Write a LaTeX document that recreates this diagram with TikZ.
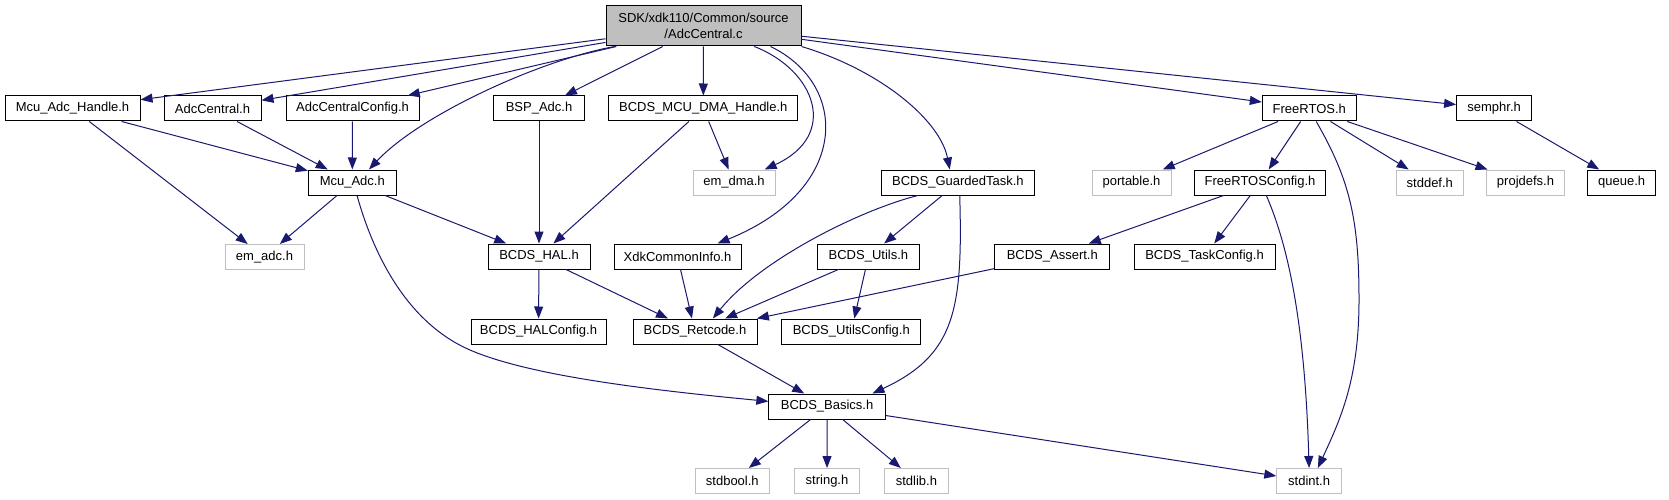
\documentclass[tikz,border=0pt]{standalone}
\usepackage{fontspec}
\setmainfont{Liberation Sans}
\usepackage{tikz}
\usetikzlibrary{arrows.meta}
\definecolor{navy}{HTML}{191970}
\definecolor{ghost}{HTML}{BFBFBF}
\tikzset{
  >={Triangle[length=12pt,width=9pt]},
  hdr/.style={draw=black, fill=white, line width=1pt, minimum height=25, inner sep=0pt,
    font=\fontsize{13}{16}\selectfont},
  sys/.style={hdr, draw=ghost},
  incl/.style={->, line width=1pt, color=navy}
}

\begin{document}
\begin{tikzpicture}[x=1pt,y=1pt]
  \path[use as bounding box,fill=white] (0,0) rectangle (1669,-500);

  % source file
  \node[hdr,fill=ghost,minimum width=195,minimum height=40,align=center] (root) at (703.5,-26)
    {SDK/xdk110/Common/source\\/AdcCentral.c};

  % first row
  \node[hdr,minimum width=135] (mcuhandle) at (72.5,-108.5) {Mcu\_Adc\_Handle.h};
  \node[hdr,minimum width=97] (adccentral) at (212.5,-108.5) {AdcCentral.h};
  \node[hdr,minimum width=133] (adcconfig) at (352.5,-108.5) {AdcCentralConfig.h};
  \node[hdr,minimum width=91] (bspadc) at (539,-108.5) {BSP\_Adc.h};
  \node[hdr,minimum width=189] (dmahandle) at (703.3,-108.5) {BCDS\_MCU\_DMA\_Handle.h};
  \node[hdr,minimum width=94] (freertos) at (1309.3,-108.5) {FreeRTOS.h};
  \node[hdr,minimum width=75] (semphr) at (1494.1,-108.5) {semphr.h};

  % second row
  \node[hdr,minimum width=88] (mcuadc) at (352.3,-182.5) {Mcu\_Adc.h};
  \node[sys,minimum width=82] (emdma) at (734,-182.5) {em\_dma.h};
  \node[hdr,minimum width=153] (guarded) at (957.9,-182.5) {BCDS\_GuardedTask.h};
  \node[sys,minimum width=79] (portable) at (1131.5,-182.5) {portable.h};
  \node[hdr,minimum width=131] (rtosconfig) at (1260,-182.5) {FreeRTOSConfig.h};
  \node[sys,minimum width=67] (stddef) at (1429.8,-182.5) {stddef.h};
  \node[sys,minimum width=77.5] (projdefs) at (1525.5,-182.5) {projdefs.h};
  \node[hdr,minimum width=67.5] (queue) at (1621.6,-182.5) {queue.h};

  % third row
  \node[sys,minimum width=79] (emadc) at (264.5,-257) {em\_adc.h};
  \node[hdr,minimum width=102] (hal) at (539,-256.5) {BCDS\_HAL.h};
  \node[hdr,minimum width=127] (xdkinfo) at (677.5,-256.5) {XdkCommonInfo.h};
  \node[hdr,minimum width=102] (utils) at (868.4,-256.5) {BCDS\_Utils.h};
  \node[hdr,minimum width=115] (assert) at (1052.3,-256.5) {BCDS\_Assert.h};
  \node[hdr,minimum width=141] (taskconfig) at (1204.5,-256.5) {BCDS\_TaskConfig.h};

  % fourth row
  \node[hdr,minimum width=135] (halconfig) at (538.5,-331.5) {BCDS\_HALConfig.h};
  \node[hdr,minimum width=124] (retcode) at (695,-331.5) {BCDS\_Retcode.h};
  \node[hdr,minimum width=139] (utilsconfig) at (851.3,-331.5) {BCDS\_UtilsConfig.h};

  % bottom rows
  \node[hdr,minimum width=116.5] (basics) at (827.1,-406.5) {BCDS\_Basics.h};
  \node[sys,minimum width=74.6] (stdbool) at (732.3,-481) {stdbool.h};
  \node[sys,minimum width=65] (string) at (827,-481) {string.h};
  \node[sys,minimum width=63.6] (stdlib) at (916.4,-481) {stdlib.h};
  \node[sys,minimum width=64.6] (stdint) at (1309.1,-481) {stdint.h};

  % includes of the source file
  \draw[incl] (root) -- (mcuhandle);
  \draw[incl] (root) -- (adccentral);
  \draw[incl] (root) -- (adcconfig);
  \draw[incl] (root.193) .. controls (540,-60) and (420,-115) .. (mcuadc.38);
  \draw[incl] (root) -- (bspadc);
  \draw[incl] (root) -- (dmahandle);
  \draw[incl] (root.338) .. controls (815,-70) and (840,-135) .. (emdma.23);
  \draw[incl] (root.343) .. controls (850,-85) and (850,-190) .. (xdkinfo.18);
  \draw[incl] (root.south east) .. controls (880,-70) and (940,-120) .. (guarded.122);
  \draw[incl] (root) -- (freertos);
  \draw[incl] (root) -- (semphr);

  % first row
  \draw[incl] (mcuhandle) -- (mcuadc);
  \draw[incl] (mcuhandle) -- (emadc);
  \draw[incl] (adccentral) -- (mcuadc);
  \draw[incl] (adcconfig) -- (mcuadc);
  \draw[incl] (bspadc) -- (hal);
  \draw[incl] (dmahandle) -- (hal);
  \draw[incl] (dmahandle) -- (emdma);
  \draw[incl] (freertos) -- (portable);
  \draw[incl] (freertos) -- (rtosconfig);
  \draw[incl] (freertos) -- (stddef);
  \draw[incl] (freertos) -- (projdefs);
  \draw[incl] (freertos.298) .. controls (1350,-180) and (1359,-220) .. (1359,-300)
    .. controls (1359,-380) and (1340,-420) .. (stdint.56);
  \draw[incl] (semphr) -- (queue);

  % second row
  \draw[incl] (mcuadc) -- (emadc);
  \draw[incl] (mcuadc) -- (hal);
  \draw[incl] (mcuadc.290) .. controls (375,-260) and (410,-324) .. (470,-350)
    .. controls (530,-376) and (650,-390) .. (basics.175);
  \draw[incl] (guarded.198) .. controls (860,-210) and (760,-260) .. (retcode.36);
  \draw[incl] (guarded) -- (utils);
  \draw[incl] (guarded.278) .. controls (963,-310) and (955,-355) .. (basics.16);
  \draw[incl] (rtosconfig) -- (assert);
  \draw[incl] (rtosconfig) -- (taskconfig);
  \draw[incl] (rtosconfig.296) .. controls (1290,-250) and (1305,-330) .. (stdint.north);

  % lower rows
  \draw[incl] (hal) -- (halconfig);
  \draw[incl] (hal) -- (retcode);
  \draw[incl] (xdkinfo) -- (retcode);
  \draw[incl] (utils) -- (retcode);
  \draw[incl] (utils) -- (utilsconfig);
  \draw[incl] (assert) -- (retcode);
  \draw[incl] (retcode) -- (basics);
  \draw[incl] (basics) -- (stdbool);
  \draw[incl] (basics) -- (string);
  \draw[incl] (basics) -- (stdlib);
  \draw[incl] (basics) -- (stdint);
\end{tikzpicture}
\end{document}
